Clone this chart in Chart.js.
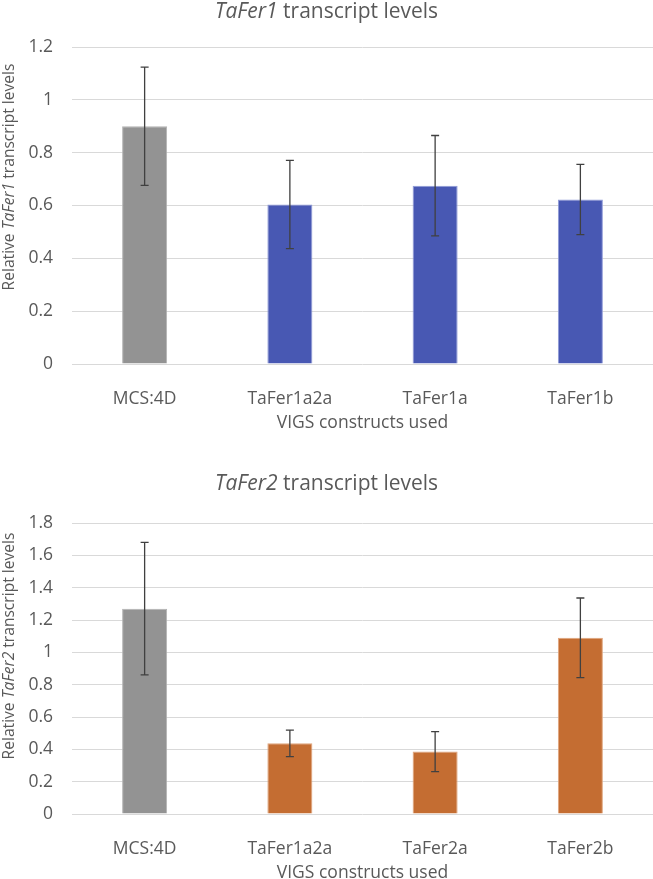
<!DOCTYPE html>
<html>
<head>
<meta charset="utf-8">
<script src="https://cdn.jsdelivr.net/npm/chart.js@4.4.1/dist/chart.umd.min.js"></script>
<style>
  body { margin: 0; background: #fff; }
  canvas { display: block; }
</style>
</head>
<body>
<canvas id="fer1" width="653" height="440"></canvas>
<canvas id="fer2" width="653" height="439"></canvas>
<script>
var fer1Labels = ["MCS:4D", "TaFer1a2a", "TaFer1a", "TaFer1b"];
var fer1Values = [0.90, 0.604, 0.675, 0.623];
var fer1Errors = [0.224, 0.167, 0.19, 0.133];
var fer1Colors = ["#939393", "#4858b3", "#4858b3", "#4858b3"];
var fer1Edges = ["#b2b2b2", "#8f9ad8", "#8f9ad8", "#8f9ad8"];

var fer2Labels = ["MCS:4D", "TaFer1a2a", "TaFer2a", "TaFer2b"];
var fer2Values = [1.27, 0.437, 0.386, 1.09];
var fer2Errors = [0.41, 0.082, 0.124, 0.246];
var fer2Colors = ["#939393", "#c46d32", "#c46d32", "#c46d32"];
var fer2Edges = ["#b2b2b2", "#e0a57c", "#e0a57c", "#e0a57c"];

var textColor = "#595959";
var fontFamily = "'Open Sans', sans-serif";

// draws a line of text where some pieces are italic, centered on x
function drawParts(ctx, parts, x, y, size) {
  var total = 0;
  var widths = [];
  parts.forEach(function (p) {
    ctx.font = (p[1] ? "italic " : "") + size + "px " + fontFamily;
    var w = ctx.measureText(p[0]).width;
    widths.push(w);
    total += w;
  });
  var cx = x - total / 2;
  ctx.textAlign = "left";
  ctx.textBaseline = "alphabetic";
  ctx.fillStyle = textColor;
  parts.forEach(function (p, i) {
    ctx.font = (p[1] ? "italic " : "") + size + "px " + fontFamily;
    ctx.fillText(p[0], cx, y);
    cx += widths[i];
  });
}

function makeChart(id, labels, values, errors, colors, edges, yMax, geneName, pos) {
  var errorBars = {
    id: "errorBars",
    afterDatasetsDraw: function (chart) {
      var ctx = chart.ctx;
      var xs = chart.scales.x;
      var ys = chart.scales.y;
      ctx.save();
      ctx.strokeStyle = "#404040";
      ctx.lineWidth = 1.3;
      values.forEach(function (v, i) {
        var x = xs.getPixelForValue(i);
        var top = ys.getPixelForValue(v + errors[i]);
        var bot = ys.getPixelForValue(v - errors[i]);
        ctx.beginPath();
        ctx.moveTo(x, top);
        ctx.lineTo(x, bot);
        ctx.moveTo(x - 4, top);
        ctx.lineTo(x + 4, top);
        ctx.moveTo(x - 4, bot);
        ctx.lineTo(x + 4, bot);
        ctx.stroke();
      });
      ctx.restore();
    }
  };

  var titles = {
    id: "titles",
    afterDraw: function (chart) {
      var ctx = chart.ctx;
      var area = chart.chartArea;
      ctx.save();
      drawParts(ctx, [[geneName, true], [" transcript levels", false]], chart.width / 2, pos.title, 21);
      drawParts(ctx, [["VIGS constructs used", false]], (area.left + area.right) / 2, pos.xTitle, 17.5);
      ctx.translate(14, pos.yTitle);
      ctx.rotate(-Math.PI / 2);
      drawParts(ctx, [["Relative ", false], [geneName, true], [" transcript levels", false]], 0, 0, 15.6);
      ctx.restore();
    }
  };

  return new Chart(id, {
    type: "bar",
    data: {
      labels: labels,
      datasets: [
        {
          data: values,
          backgroundColor: colors,
          borderColor: edges,
          borderWidth: 1,
          barPercentage: 0.31,
          categoryPercentage: 1,
        },
      ],
    },
    options: {
      responsive: false,
      animation: false,
      devicePixelRatio: 1,
      layout: { padding: { top: pos.top, left: 0, right: 0, bottom: 0 } },
      scales: {
        x: {
          grid: { display: false },
          border: { display: false },
          ticks: { color: textColor, padding: 17, font: { family: fontFamily, size: 17.5 } },
          afterFit: function (scale) { scale.height = pos.xHeight; },
        },
        y: {
          min: 0,
          max: yMax,
          grid: { color: "#d9d9d9", lineWidth: 1, drawTicks: false },
          border: { display: false },
          ticks: {
            stepSize: 0.2,
            color: textColor,
            padding: 19,
            font: { family: fontFamily, size: 17.5 },
            callback: function (v) { return String(Math.round(v * 10) / 10); },
          },
          afterFit: function (scale) { scale.width = 72; },
        },
      },
      plugins: {
        legend: { display: false },
        tooltip: { enabled: false },
      },
    },
    plugins: [errorBars, titles],
  });
}

makeChart("fer1", fer1Labels, fer1Values, fer1Errors, fer1Colors, fer1Edges, 1.2, "TaFer1",
  { top: 47, xHeight: 76, title: 18, xTitle: 428, yTitle: 177 });
makeChart("fer2", fer2Labels, fer2Values, fer2Errors, fer2Colors, fer2Edges, 1.8, "TaFer2",
  { top: 83, xHeight: 65, title: 50, xTitle: 438, yTitle: 206 });
</script>
</body>
</html>
